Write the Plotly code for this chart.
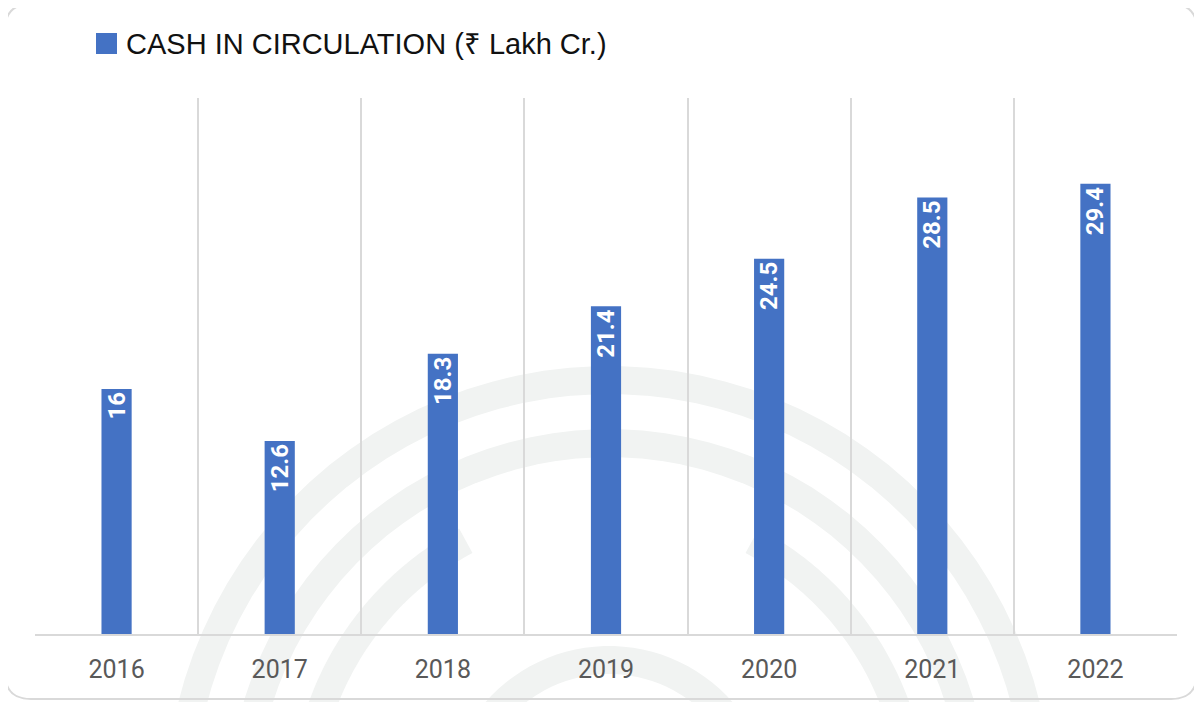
import numpy as np
import plotly.graph_objects as go

# data
years = ["2016", "2017", "2018", "2019", "2020", "2021", "2022"]
cash_in_circulation = [16, 12.6, 18.3, 21.4, 24.5, 28.5, 29.4]
series_name = "CASH IN CIRCULATION (\u20b9 Lakh Cr.)"

BAR_COLOR = "#4472C4"
GRID_COLOR = "#d9d9d9"
MARK_COLOR = "#f1f3f2"

# the page body adds an 8px margin, so the figure is laid out in page pixels
OFF = 8
W, H = 1202 - OFF, 702 - OFF
PLOT_L, PLOT_R, PLOT_T, PLOT_B = 35, 1177, 98, 634  # page pixels
M_L, M_R = PLOT_L - OFF, 1202 - PLOT_R
M_T, M_B = PLOT_T - OFF, 702 - PLOT_B
PW, PH = PLOT_R - PLOT_L, PLOT_B - PLOT_T


def px_x(px):
    """page pixel x -> paper x"""
    return (px - PLOT_L) / PW


def px_y(py):
    """page pixel y (from top) -> paper y"""
    return (PLOT_B - py) / PH


def rounded_rect(x0, y0, x1, y1, r):
    """SVG path of a rounded rectangle, given in pixels, returned in paper units"""
    pts = [
        f"M {px_x(x0 + r)},{px_y(y0)}",
        f"L {px_x(x1 - r)},{px_y(y0)}",
        f"Q {px_x(x1)},{px_y(y0)} {px_x(x1)},{px_y(y0 + r)}",
        f"L {px_x(x1)},{px_y(y1 - r)}",
        f"Q {px_x(x1)},{px_y(y1)} {px_x(x1 - r)},{px_y(y1)}",
        f"L {px_x(x0 + r)},{px_y(y1)}",
        f"Q {px_x(x0)},{px_y(y1)} {px_x(x0)},{px_y(y1 - r)}",
        f"L {px_x(x0)},{px_y(y0 + r)}",
        f"Q {px_x(x0)},{px_y(y0)} {px_x(x0 + r)},{px_y(y0)}",
        "Z",
    ]
    return " ".join(pts)


def arc(cx, cy, r, a0, a1, n=60):
    """polyline arc in pixels (angles in degrees, 0 = right, 90 = up)"""
    t = np.radians(np.linspace(a0, a1, n))
    xs = cx + r * np.cos(t)
    ys = cy - r * np.sin(t)
    return "M " + " L ".join(f"{px_x(x):.5f},{px_y(y):.5f}" for x, y in zip(xs, ys))


fig = go.Figure()

fig.add_trace(
    go.Bar(
        x=years,
        y=cash_in_circulation,
        name=series_name,
        marker=dict(color=BAR_COLOR, line=dict(width=0)),
        text=[f"{v:g}" for v in cash_in_circulation],
        textposition="inside",
        insidetextanchor="end",
        textangle=-90,
        constraintext="none",
        textfont=dict(family="Roboto", size=24, color="white", weight="bold"),
        showlegend=False,
        hovertemplate="%{x}: %{y}<extra></extra>",
    )
)

shapes = []

# faint watermark (concentric rings) in the background
CX, CY = 609, 810
for r, a0, a1 in [(430, 0, 180), (367, 0, 180), (305, 14, 62), (305, 118, 166), (150, 0, 180)]:
    shapes.append(
        dict(
            type="path",
            xref="paper", yref="paper",
            path=arc(CX, CY, r, a0, a1) if (a0, a1) != (0, 180) else arc(CX, CY, r, -10, 190),
            line=dict(color=MARK_COLOR, width=28),
            layer="below",
        )
    )

# rounded chart border
shapes.append(
    dict(
        type="path",
        xref="paper", yref="paper",
        path=rounded_rect(5, 4, 1197, 699, 26),
        line=dict(color=GRID_COLOR, width=2),
        layer="above",
    )
)

# legend square
shapes.append(
    dict(
        type="rect",
        xref="paper", yref="paper",
        x0=px_x(96), x1=px_x(117), y0=px_y(54), y1=px_y(33),
        fillcolor=BAR_COLOR,
        line=dict(width=0),
    )
)

fig.update_layout(
    width=W,
    height=H,
    margin=dict(l=M_L, r=M_R, t=M_T, b=M_B),
    paper_bgcolor="white",
    plot_bgcolor="rgba(0,0,0,0)",
    bargap=0.815,
    shapes=shapes,
    annotations=[
        dict(
            text=series_name,
            xref="paper", yref="paper",
            x=px_x(124), y=px_y(44),
            xanchor="left", yanchor="middle",
            showarrow=False,
            font=dict(family="Liberation Sans", size=29, color="#111111"),
        )
    ],
)

fig.update_xaxes(
    type="category",
    tickson="boundaries",
    showgrid=True,
    gridcolor=GRID_COLOR,
    gridwidth=2,
    showline=True,
    linecolor=GRID_COLOR,
    linewidth=2,
    ticks="",
    ticklabelstandoff=12,
    tickfont=dict(family="Roboto", size=25, color="#595959"),
)

fig.update_yaxes(
    range=[0, 35],
    showgrid=False,
    zeroline=False,
    showticklabels=False,
)

fig.write_html("out.html")
